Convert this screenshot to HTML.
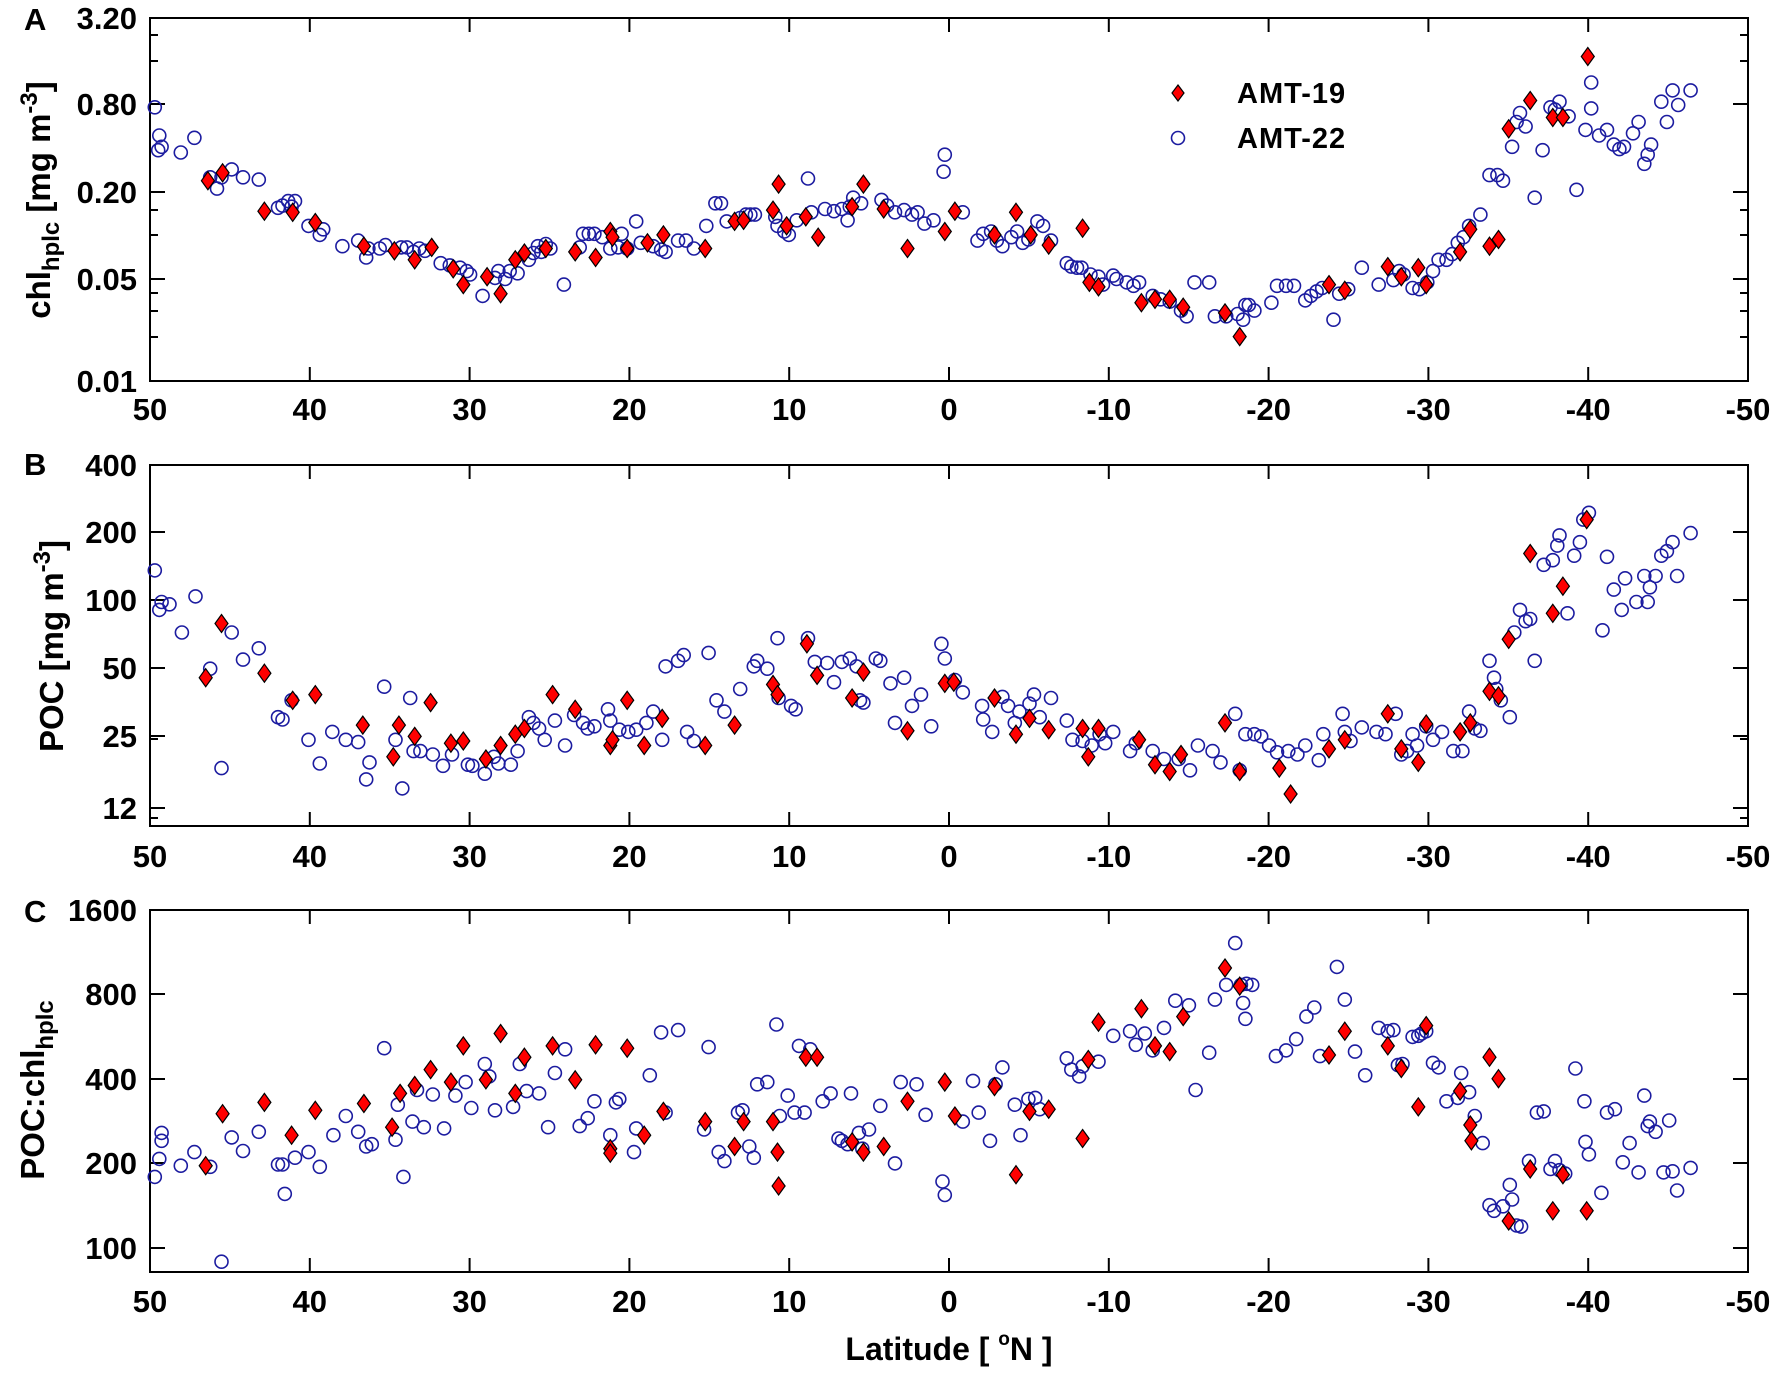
<!DOCTYPE html>
<html><head><meta charset="utf-8"><style>
html,body{margin:0;padding:0;background:#fff}
svg text{font-family:"Liberation Sans",Arial,sans-serif;font-weight:bold;fill:#000}
</style></head><body>
<svg id="s" width="1772" height="1378" viewBox="0 0 1772 1378" xmlns="http://www.w3.org/2000/svg">
<g id="ax" stroke="#000" stroke-width="2" fill="none"></g>
<g id="lab"></g>
<g id="pts"></g>
<text transform="translate(50,200) rotate(-90)" text-anchor="middle" font-size="33">chl<tspan font-size="24" dy="9">hplc</tspan><tspan dy="-9"> [mg m</tspan><tspan font-size="24" dy="-13">-3</tspan><tspan dy="13">]</tspan></text>
<text transform="translate(63,646) rotate(-90)" text-anchor="middle" font-size="33">POC [mg m<tspan font-size="24" dy="-13">-3</tspan><tspan dy="13">]</tspan></text>
<text transform="translate(44,1090) rotate(-90)" text-anchor="middle" font-size="33">POC:chl<tspan font-size="24" dy="9">hplc</tspan></text>
<text x="24" y="30" font-size="31">A</text>
<text x="24" y="475" font-size="31">B</text>
<text x="24" y="922" font-size="31">C</text>
<text x="949" y="1360" text-anchor="middle" font-size="32">Latitude [ <tspan font-size="19" dy="-15">o</tspan><tspan dy="15">N ]</tspan></text>
<path d="M1178,85 L1184,93 L1178,101 L1172,93 Z" fill="#f00" stroke="#000" stroke-width="1.2"/>
<circle cx="1178" cy="138" r="6.5" fill="none" stroke="#1c1ca0" stroke-width="1.6"/>
<text x="1237" y="103" font-size="29" letter-spacing="1">AMT-19</text>
<text x="1237" y="148" font-size="29" letter-spacing="1">AMT-22</text>
</svg>
<script>
var NS="http://www.w3.org/2000/svg";
function el(p,t,a,txt){var e=document.createElementNS(NS,t);for(var k in a)e.setAttribute(k,a[k]);if(txt!=null)e.textContent=txt;p.appendChild(e);return e;}
var ax=document.getElementById('ax'),lab=document.getElementById('lab'),pts=document.getElementById('pts');
var L=150,R=1748;
var panels=[
 {t:18,b:381,yl:[["3.20",18],["0.80",104],["0.20",192],["0.05",279],["0.01",381]],minor:[35,61,210,235,293,311,337],xl:408},
 {t:465,b:826,yl:[["400",465],["200",532],["100",600],["50",668],["25",736],["12",808]],minor:[739,818],xl:855},
 {t:910,b:1272,yl:[["1600",910],["800",994],["400",1079],["200",1163],["100",1248]],minor:[],xl:1300}
];
panels.forEach(function(p){
 el(ax,'rect',{x:L,y:p.t,width:R-L,height:p.b-p.t});
 for(var i=1;i<10;i++){var x=L+i*159.8;
  el(ax,'line',{x1:x,y1:p.b,x2:x,y2:p.b-14});
  el(ax,'line',{x1:x,y1:p.t,x2:x,y2:p.t+14});}
 for(var i=0;i<=10;i++){var x=L+i*159.8;var v=50-i*10;
  el(lab,'text',{x:x,y:p.xl+12,'text-anchor':'middle','font-size':'31'},String(v));}
 p.yl.forEach(function(q){
  if(q[1]>p.t+2&&q[1]<p.b-2){el(ax,'line',{x1:L,y1:q[1],x2:L+15,y2:q[1]});el(ax,'line',{x1:R,y1:q[1],x2:R-15,y2:q[1]});}
  el(lab,'text',{x:137,y:q[1]+11,'text-anchor':'end','font-size':'31'},q[0]);});
 p.minor.forEach(function(y){el(ax,'line',{x1:L,y1:y,x2:L+8,y2:y});el(ax,'line',{x1:R,y1:y,x2:R-8,y2:y});});
});
var sx=1772/1568, sy=1378/1220;
function circ(a){for(var i=0;i<a.length;i+=2){el(pts,'circle',{cx:(a[i]*sx).toFixed(1),cy:(a[i+1]*sy).toFixed(1),r:6.5,fill:'none',stroke:'#1c1ca0','stroke-width':1.6});}}
function dia(a){for(var i=0;i<a.length;i+=2){var x=a[i]*sx,y=a[i+1]*sy;
 el(pts,'path',{d:'M'+x.toFixed(1)+','+(y-9).toFixed(1)+' L'+(x+6.5).toFixed(1)+','+y.toFixed(1)+' L'+x.toFixed(1)+','+(y+9).toFixed(1)+' L'+(x-6.5).toFixed(1)+','+y.toFixed(1)+'Z',fill:'#f00',stroke:'#000','stroke-width':1.2});}}
circ([137,95,141,120,143,130,140,133,160,135,172,122,186,157,192,167,196,157,205,150,215,157,229,159,246,184,250,182,255,178,258,183,261,178,273,200,283,208,286,203,303,218,317,213,324,228,326,220,336,220,341,217,355,219,360,219,366,223,371,220,376,222,390,233,398,235,407,237,413,240,416,243,427,262,441,240,438,246,447,247,451,240,458,242,468,230,472,224,476,218,479,223,483,216,487,220,499,252,513,219,516,207,521,207,526,207,533,210,540,220,547,219,550,207,555,220,563,196,567,215,578,218,585,221,589,223,600,213,607,213,614,220,625,200,633,180,638,180,643,196,655,193,660,190,664,190,668,190,686,192,688,200,694,205,698,208,705,195,715,158,718,188,730,185,738,187,745,185,750,195,752,183,755,175,762,180,780,177,785,182,792,188,800,186,807,190,812,188,818,198,826,195,835,152,836,137,852,188,865,213,870,207,877,205,882,213,887,218,895,210,900,205,905,215,910,212,918,196,923,200,930,213,944,233,948,236,953,237,957,237,965,243,972,245,976,252,985,244,988,247,997,250,1003,253,1008,250,1020,262,1027,265,1035,267,1045,275,1050,280,1057,250,1070,250,1075,280,1085,280,1095,278,1100,283,1102,270,1105,270,1110,275,1125,268,1130,253,1138,253,1145,253,1155,266,1160,262,1165,258,1170,255,1180,283,1185,260,1193,256,1205,237,1220,252,1233,248,1238,240,1242,243,1250,255,1256,256,1263,250,1268,240,1273,230,1280,230,1285,225,1290,215,1295,210,1300,200,1310,190,1318,155,1325,155,1330,160,1338,130,1342,108,1345,100,1350,112,1358,175,1365,133,1372,95,1376,97,1380,90,1388,103,1395,168,1403,115,1408,96,1408,73,1415,120,1422,115,1428,128,1433,132,1437,130,1445,118,1450,108,1455,145,1458,137,1461,128,1470,90,1475,108,1480,80,1485,93,1496,80]);
dia([184,160,197,153,234,187,259,188,279,197,322,218,349,222,367,230,382,219,401,238,410,252,431,245,443,260,456,230,464,224,483,220,509,223,527,228,540,205,542,210,555,220,573,215,587,208,624,220,650,196,658,195,684,186,689,163,696,200,713,192,724,210,754,183,764,163,782,185,803,220,836,205,845,187,880,208,899,188,912,208,928,217,958,202,964,250,972,254,1010,268,1022,265,1035,265,1047,272,1084,277,1097,298,1176,252,1190,257,1228,236,1240,245,1255,237,1262,252,1292,223,1301,203,1318,218,1326,212,1335,114,1354,89,1374,104,1383,104,1405,50]);
circ([137,505,141,540,143,533,150,535,161,560,173,528,186,592,196,680,205,560,215,584,229,574,246,635,250,637,258,620,273,655,283,676,294,648,306,655,317,657,324,690,327,675,340,608,350,655,356,698,363,618,366,665,372,665,383,668,392,678,400,668,414,677,418,678,429,685,437,670,441,676,452,677,458,665,468,635,472,640,477,645,482,655,491,638,500,660,508,633,516,640,520,645,526,643,538,628,540,638,548,646,556,648,563,646,572,640,578,630,586,655,589,590,600,585,605,580,608,648,614,656,627,578,634,620,641,630,655,610,667,590,670,585,679,592,688,565,689,618,700,625,704,628,715,565,721,586,732,587,738,604,745,586,752,583,758,590,761,620,764,622,775,583,779,585,788,605,792,640,800,600,807,625,815,615,824,643,833,570,836,583,845,602,852,613,869,625,870,637,878,648,887,617,892,625,898,640,902,630,911,623,915,615,920,635,930,618,944,638,949,655,958,656,966,660,973,650,978,658,985,648,1000,665,1005,658,1020,665,1030,672,1043,672,1053,682,1060,660,1073,665,1080,675,1093,632,1097,682,1102,650,1110,650,1116,652,1123,660,1130,666,1140,665,1148,668,1155,660,1167,673,1171,650,1188,632,1190,648,1195,656,1205,644,1218,648,1226,650,1235,632,1240,668,1245,665,1250,650,1254,660,1262,643,1268,655,1276,648,1286,665,1294,665,1300,630,1305,645,1310,647,1318,585,1322,600,1324,610,1328,620,1336,635,1340,560,1345,540,1350,550,1354,548,1358,585,1366,500,1374,496,1378,483,1380,474,1387,543,1393,492,1398,480,1401,460,1406,454,1418,558,1422,493,1428,522,1435,540,1438,512,1448,533,1455,510,1458,533,1460,520,1465,510,1470,492,1475,488,1480,480,1484,510,1496,472]);
dia([182,600,196,552,234,596,259,620,279,615,321,642,348,670,353,642,367,652,381,622,399,658,410,656,430,672,443,660,456,650,464,645,489,615,509,628,540,660,542,655,555,620,570,660,586,636,624,660,650,642,684,606,688,615,714,570,723,598,754,618,764,595,803,647,836,605,844,604,880,618,899,650,911,636,928,646,958,645,963,670,972,645,1008,655,1022,677,1035,683,1045,668,1084,640,1097,683,1132,680,1142,703,1176,663,1190,655,1228,632,1240,663,1255,675,1262,641,1292,648,1301,640,1318,612,1326,616,1335,566,1354,490,1374,543,1383,519,1404,460]);
circ([137,1042,141,1026,143,1010,143,1003,160,1032,172,1020,186,1033,196,1117,205,1007,215,1019,229,1002,246,1031,250,1031,252,1057,261,1025,273,1020,283,1033,295,1005,306,988,317,1002,324,1015,329,1013,340,928,350,1009,352,978,357,1042,365,993,369,965,375,998,383,969,393,999,403,970,412,958,417,981,429,942,433,953,438,983,454,980,460,942,466,966,477,968,485,998,491,950,500,929,513,997,520,990,526,975,540,1005,545,976,548,973,561,1020,563,999,575,952,585,914,589,985,600,912,623,1000,627,927,636,1020,641,1028,653,985,657,983,663,1015,667,1025,670,960,679,958,687,907,690,988,697,970,703,985,707,926,712,985,717,929,728,975,735,968,742,1008,745,1010,750,1013,753,968,760,1003,763,1017,769,1000,779,979,792,1030,797,958,811,960,819,987,834,1046,836,1058,852,993,861,957,866,985,876,1010,881,960,887,945,898,978,903,1005,910,973,916,972,920,982,944,937,948,947,955,953,958,944,972,940,985,917,1000,913,1005,925,1013,915,1020,930,1030,910,1040,886,1052,890,1058,965,1070,932,1075,885,1085,872,1093,835,1098,872,1100,888,1102,902,1103,871,1108,872,1129,935,1138,930,1147,920,1156,900,1163,892,1168,935,1183,856,1190,885,1199,931,1208,952,1220,910,1228,913,1233,912,1237,943,1241,942,1250,918,1255,917,1258,915,1262,913,1268,941,1273,945,1280,975,1290,972,1293,950,1300,967,1305,988,1312,1012,1318,1067,1322,1072,1330,1068,1336,1049,1338,1062,1342,1085,1346,1086,1353,1028,1360,985,1366,984,1372,1035,1376,1028,1380,1036,1385,1039,1394,946,1402,975,1403,1011,1406,1022,1417,1056,1422,985,1429,982,1436,1029,1442,1012,1450,1038,1455,970,1458,997,1460,993,1465,1002,1472,1038,1477,992,1480,1037,1484,1054,1496,1034]);
dia([182,1032,197,986,234,976,258,1005,279,983,322,977,347,998,354,968,367,961,381,947,399,958,410,926,430,956,443,915,456,968,464,936,489,926,509,956,527,925,540,1017,540,1021,555,928,570,1005,587,984,624,993,650,1015,658,993,684,993,688,1020,689,1050,713,936,723,936,754,1011,764,1020,782,1015,803,975,836,958,845,988,880,962,899,1040,911,984,928,982,958,1008,963,938,972,905,1010,893,1022,926,1035,931,1047,900,1084,857,1097,873,1176,934,1190,913,1228,926,1240,946,1255,980,1262,908,1292,966,1301,996,1302,1010,1318,936,1326,955,1335,1081,1354,1035,1374,1072,1383,1040,1404,1072]);
</script>
</body></html>
